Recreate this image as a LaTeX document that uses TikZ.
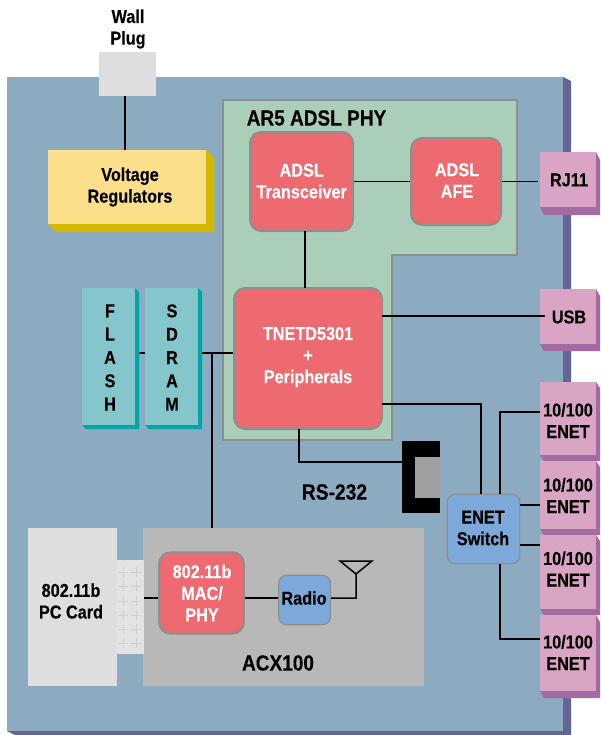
\documentclass[tikz,border=0pt]{standalone}
\usepackage{fontspec}
\setmainfont{Liberation Sans}[BoldFont={Liberation Sans Bold},BoldFeatures={FakeStretch=0.87,FakeBold=0.25}]
\definecolor{board}{HTML}{8DABC0}
\definecolor{boardsh}{HTML}{63649A}
\definecolor{phy}{HTML}{ABCEB9}
\definecolor{edgegray}{HTML}{8C8F8F}
\definecolor{chip}{HTML}{ED6B70}
\definecolor{yel}{HTML}{FBDF8A}
\definecolor{yelsh}{HTML}{D4B800}
\definecolor{teal}{HTML}{84C6CC}
\definecolor{tealsh}{HTML}{00A5A8}
\definecolor{pink}{HTML}{DAA4C4}
\definecolor{pinksh}{HTML}{A46BA2}
\definecolor{swblue}{HTML}{7DA8DA}
\definecolor{lgray}{HTML}{DEDEDE}
\definecolor{mgray}{HTML}{B8B8B8}
\tikzset{x=0.75pt,y=-0.75pt,
  lbl/.style={font=\bfseries\fontsize{14}{16.2}\selectfont,align=center,inner sep=0pt,text=black},
  wlbl/.style={lbl,text=white},
  conn/.style={draw=black,line width=1.5pt*0.75},
  chipbox/.style={draw=edgegray,line width=1.5pt,fill=chip,rounded corners=8.5pt,inner sep=0pt},
  swbox/.style={draw=edgegray,line width=0.9pt,fill=swblue,rounded corners=6pt,inner sep=0pt},
  flatbox/.style={inner sep=0pt,draw=none},
}
% box with bevel shadow: x0,y0,x1,y1,dx,dy,face,shadow
\newcommand{\bevel}[8]{%
  \fill[#8] (#1,#4) -- ++(#5,#6) -- (#3+#5,#4+#6) -- (#3+#5,#2+#6) -- (#3,#2) -- cycle;
  \fill[#7] (#1,#2) rectangle (#3,#4);
}
\begin{document}
\begin{tikzpicture}
\useasboundingbox (0,0) rectangle (600,735);
\fill[white] (0,0) rectangle (600,735);
\bevel{7}{77}{563}{731}{8}{4}{board}{boardsh}
% PHY area
\draw[draw=edgegray,fill=phy,line width=1.6pt*0.75]
  (223,100) -- (517,100) -- (517,255) -- (392,255) -- (392,440) -- (223,440) -- cycle;
\node[lbl,font=\bfseries\fontsize{16.4}{18}\selectfont] (phylbl) at (316.5,118) {AR5 ADSL PHY};
% boxes
\fill[lgray] (99,52) rectangle (156,96);
\coordinate (plug) at (125,96);
\node[lbl] (wall) at (128,29) {Wall\\Plug};
\bevel{48}{150}{206}{224}{8}{8}{yel}{yelsh}
\node[flatbox,minimum width=118.5pt,minimum height=55.5pt] (volt) at (127,187) {};
\node[lbl] (voltl) at (130,187) {Voltage\\Regulators};
\bevel{82}{288}{135}{425}{4}{4}{teal}{tealsh}
\bevel{145}{288}{198}{425}{4}{4}{teal}{tealsh}
\coordinate (fr) at (139,353);
\coordinate (sl) at (145,353);
\coordinate (sr) at (202,353);
\node[lbl,font=\bfseries\fontsize{14}{17.5}\selectfont] (flash) at (110,357.5) {F\\L\\A\\S\\H};
\node[lbl,font=\bfseries\fontsize{14}{17.5}\selectfont] (sdram) at (172,357.5) {S\\D\\R\\A\\M};
\node[chipbox,minimum width=77.25pt,minimum height=74.25pt] (xcvr) at (301.5,181.5) {};
\node[wlbl] at (301.7,181) {ADSL\\Transceiver};
\node[chipbox,minimum width=67.5pt,minimum height=65.25pt] (afe) at (456,181.5) {};
\node[wlbl] at (457,180.5) {ADSL\\AFE};
\node[chipbox,minimum width=111pt,minimum height=105.75pt] (tn) at (308,358.5) {};
\node[wlbl] at (308,357) {TNETD5301\\+\\Peripherals};
% ports
\bevel{540}{152}{596}{207}{4}{8}{pink}{pinksh}
\node[lbl] (rj) at (569,180) {RJ11};
\bevel{540}{289}{596}{344}{4}{7}{pink}{pinksh}
\node[lbl] (usb) at (569,317) {USB};
\bevel{540}{382}{596}{455}{4}{6}{pink}{pinksh}
\bevel{540}{461}{596}{529}{4}{6}{pink}{pinksh}
\bevel{540}{535}{596}{609}{4}{6}{pink}{pinksh}
\bevel{540}{615}{596}{691}{4}{7}{pink}{pinksh}
\coordinate (p1) at (540,412);
\coordinate (p2) at (540,505);
\coordinate (p3) at (540,545);
\coordinate (p4) at (540,639);
\node[lbl] at (568,420.5) {10/100\\ENET};
\node[lbl] at (568,495.5) {10/100\\ENET};
\node[lbl] at (568,569) {10/100\\ENET};
\node[lbl] at (568,652.5) {10/100\\ENET};
% switch
\node[swbox,minimum width=54.5pt,minimum height=52pt] (sw) at (483.5,529) {};
\node[lbl] at (483,528) {ENET\\Switch};
% RS-232 connector
\fill[black] (402,441) rectangle (440,513);
\fill[gray!75] (415,457) rectangle (440,498);
\coordinate (rs) at (402,462);
\node[lbl,font=\bfseries\fontsize{16.6}{18}\selectfont] (rsl) at (334.5,492) {RS-232};
% bottom
\fill[lgray] (28,528) rectangle (117,686);
\fill[mgray] (143,528) rectangle (424,686);
\fill[gray!22] (117,560) rectangle (144,654);
\foreach \yy in {572,586,601,615,629,643}
  \foreach \xx in {123,136}
    \draw[gray!38,line width=0.6pt] (\xx-5,\yy) -- (\xx+5,\yy) (\xx,\yy-5) -- (\xx,\yy+5);
\node[lbl] (pc) at (71,601) {802.11b\\PC Card};
\node[chipbox,minimum width=63.5pt,minimum height=61pt] (mac) at (201.5,593) {};
\node[wlbl] at (202,593) {802.11b\\MAC/\\PHY};
\node[swbox,minimum width=39pt,minimum height=37pt] (radio) at (304.5,600) {};
\node[lbl] at (304,598) {Radio};
\node[lbl,font=\bfseries\fontsize{16.4}{18}\selectfont] (acx) at (278,663) {ACX100};
\coordinate (acxtop) at (212,528);
\coordinate (cardr) at (144,598);
\coordinate (ant) at (356,574);
% connectors
\draw[conn] (plug) -- (volt.north -| plug);
\draw[conn] (fr) -- (sl);
\draw[conn] (sr) -- (tn.west |- sr);
\draw[conn] (212,353) -- (acxtop);
\draw[conn] (xcvr.east |- afe) -- (afe);
\draw[conn] (afe.east) -- (538,181.5);
\draw[conn] (305,231) -- (305,288);
\draw[conn] (382,316) -- (545,316);
\draw[conn] (299,429) -- (299,462) -- (rs);
\draw[conn] (382,404) -- (481,404) -- (481,494);
\draw[conn] (500,494) -- (500,412) -- (p1);
\draw[conn] (520,505) -- (p2);
\draw[conn] (520,545) -- (p3);
\draw[conn] (500,564) -- (500,639) -- (p4);
\draw[conn] (cardr) -- (mac.west |- cardr);
\draw[conn] (mac.east |- 0,598) -- (radio.west |- 0,598);
\draw[conn,line join=miter] (radio.east |- 0,598) -- (356,598) -- (ant) -- (340,561) -- (372,561) -- (ant);
\end{tikzpicture}
\end{document}
